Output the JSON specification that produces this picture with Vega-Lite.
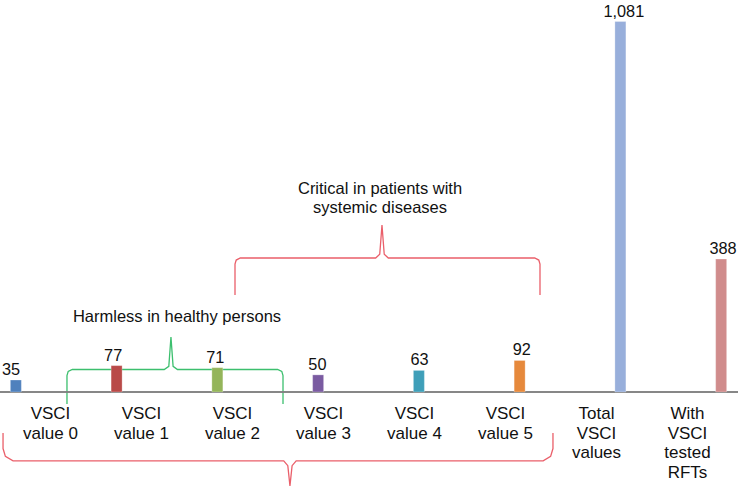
{
  "$schema": "https://vega.github.io/schema/vega-lite/v6.json",
  "width": 738,
  "height": 486,
  "padding": 0,
  "autosize": {"type": "none"},
  "config": {"view": {"stroke": null}, "font": "Liberation Sans"},
  "datasets": {
    "bars": [
      {"i": 0, "label": "VSCI\nvalue 0", "value": 35},
      {"i": 1, "label": "VSCI\nvalue 1", "value": 77},
      {"i": 2, "label": "VSCI\nvalue 2", "value": 71},
      {"i": 3, "label": "VSCI\nvalue 3", "value": 50},
      {"i": 4, "label": "VSCI\nvalue 4", "value": 63},
      {"i": 5, "label": "VSCI\nvalue 5", "value": 92},
      {"i": 6, "label": "Total\nVSCI\nvalues", "value": 1081},
      {"i": 7, "label": "With\nVSCI\ntested\nRFTs", "value": 388}
    ],
    "braces": [
      {"brace": "healthy", "k": 0, "x": 0.548, "y": -35},
      {"brace": "healthy", "k": 1, "x": 0.548, "y": 48},
      {"brace": "healthy", "k": 2, "x": 0.56, "y": 60},
      {"brace": "healthy", "k": 3, "x": 0.6, "y": 65.7},
      {"brace": "healthy", "k": 4, "x": 1.5, "y": 65.7},
      {"brace": "healthy", "k": 5, "x": 1.545, "y": 75},
      {"brace": "healthy", "k": 6, "x": 1.566, "y": 160.5},
      {"brace": "healthy", "k": 7, "x": 1.587, "y": 75},
      {"brace": "healthy", "k": 8, "x": 1.63, "y": 65.7},
      {"brace": "healthy", "k": 9, "x": 2.61, "y": 65.7},
      {"brace": "healthy", "k": 10, "x": 2.651, "y": 60},
      {"brace": "healthy", "k": 11, "x": 2.663, "y": 48},
      {"brace": "healthy", "k": 12, "x": 2.663, "y": -35},
      {"brace": "critical", "k": 0, "x": 2.193, "y": 283},
      {"brace": "critical", "k": 1, "x": 2.193, "y": 373},
      {"brace": "critical", "k": 2, "x": 2.205, "y": 385},
      {"brace": "critical", "k": 3, "x": 2.245, "y": 391},
      {"brace": "critical", "k": 4, "x": 3.57, "y": 391},
      {"brace": "critical", "k": 5, "x": 3.61, "y": 402},
      {"brace": "critical", "k": 6, "x": 3.632, "y": 487},
      {"brace": "critical", "k": 7, "x": 3.654, "y": 402},
      {"brace": "critical", "k": 8, "x": 3.694, "y": 391},
      {"brace": "critical", "k": 9, "x": 5.127, "y": 391},
      {"brace": "critical", "k": 10, "x": 5.167, "y": 385},
      {"brace": "critical", "k": 11, "x": 5.179, "y": 373},
      {"brace": "critical", "k": 12, "x": 5.179, "y": 283},
      {"brace": "all", "k": 0, "x": -0.078, "y": -119.6},
      {"brace": "all", "k": 1, "x": -0.078, "y": -165},
      {"brace": "all", "k": 2, "x": -0.055, "y": -188},
      {"brace": "all", "k": 3, "x": 0.02, "y": -201},
      {"brace": "all", "k": 4, "x": 2.67, "y": -201},
      {"brace": "all", "k": 5, "x": 2.71, "y": -215},
      {"brace": "all", "k": 6, "x": 2.731, "y": -274},
      {"brace": "all", "k": 7, "x": 2.752, "y": -215},
      {"brace": "all", "k": 8, "x": 2.792, "y": -201},
      {"brace": "all", "k": 9, "x": 5.21, "y": -201},
      {"brace": "all", "k": 10, "x": 5.283, "y": -188},
      {"brace": "all", "k": 11, "x": 5.306, "y": -165},
      {"brace": "all", "k": 12, "x": 5.306, "y": -119.6}
    ],
    "notes": [
      {"note": "Harmless in healthy persons", "x": 1.625, "y": 205},
      {"note": "Critical in patients with\nsystemic diseases", "x": 3.613, "y": 578}
    ]
  },
  "layer": [
    {
      "data": {"name": "braces"},
      "mark": {"type": "line", "strokeWidth": 1.3},
      "encoding": {
        "x": {"field": "x", "type": "quantitative", "scale": {"domain": [-0.1077, 7.1175], "nice": false, "zero": false}, "axis": null},
        "y": {"field": "y", "type": "quantitative", "scale": {"domain": [-274.3, 1143.9], "nice": false, "zero": false}, "axis": null},
        "detail": {"field": "brace", "type": "nominal"},
        "order": {"field": "k", "type": "quantitative"},
        "color": {"field": "brace", "type": "nominal", "legend": null, "scale": {"domain": ["healthy", "critical", "all"], "range": ["#3cbf6e", "#ea5f6a", "#ea5f6a"]}}
      }
    },
    {
      "data": {"name": "notes"},
      "mark": {"type": "rule", "color": "#7f7f7f", "strokeWidth": 1.5},
      "encoding": {
        "y": {"datum": 0, "type": "quantitative", "scale": {"domain": [-274.3, 1143.9], "nice": false, "zero": false}, "axis": null}
      }
    },
    {
      "data": {"name": "bars"},
      "mark": {"type": "bar", "size": 11, "stroke": "#ffffff", "strokeOpacity": 0.35, "strokeWidth": 0.8},
      "encoding": {
        "x": {"field": "i", "type": "quantitative", "scale": {"domain": [-0.1077, 7.1175], "nice": false, "zero": false}, "axis": null},
        "y": {"field": "value", "type": "quantitative", "scale": {"domain": [-274.3, 1143.9], "nice": false, "zero": false}, "axis": null},
        "y2": {"datum": 0},
        "color": {"field": "label", "type": "nominal", "legend": null, "scale": {"domain": ["VSCI\nvalue 0", "VSCI\nvalue 1", "VSCI\nvalue 2", "VSCI\nvalue 3", "VSCI\nvalue 4", "VSCI\nvalue 5", "Total\nVSCI\nvalues", "With\nVSCI\ntested\nRFTs"], "range": ["#4f81bd", "#b94a48", "#94b55a", "#7a5ba1", "#3f9fb9", "#e6893c", "#98afdb", "#d08c8c"]}}
      }
    },
    {
      "data": {"name": "bars"},
      "mark": {"type": "text", "fontSize": 16.3, "baseline": "alphabetic", "align": "center", "dy": -5, "dx": {"expr": "datum.i == 7 ? -3 : 0"}, "color": "#111111"},
      "encoding": {
        "x": {"field": "i", "type": "quantitative", "scale": {"domain": [-0.1077, 7.1175], "nice": false, "zero": false}, "axis": null},
        "y": {"field": "value", "type": "quantitative", "scale": {"domain": [-274.3, 1143.9], "nice": false, "zero": false}, "axis": null},
        "text": {"field": "value", "type": "quantitative", "format": ","}
      }
    },
    {
      "data": {"name": "notes"},
      "mark": {"type": "text", "fontSize": 16.5, "baseline": "alphabetic", "align": "center", "lineBreak": "\n", "lineHeight": 19.3, "color": "#111111"},
      "encoding": {
        "x": {"field": "x", "type": "quantitative", "scale": {"domain": [-0.1077, 7.1175], "nice": false, "zero": false}, "axis": null},
        "y": {"field": "y", "type": "quantitative", "scale": {"domain": [-274.3, 1143.9], "nice": false, "zero": false}, "axis": null},
        "text": {"field": "note", "type": "nominal"}
      }
    },
    {
      "data": {"name": "bars"},
      "mark": {"type": "text", "fontSize": 17, "baseline": "alphabetic", "align": "center", "lineBreak": "\n", "lineHeight": 19.5, "color": "#111111"},
      "encoding": {
        "x": {"field": "i", "type": "quantitative", "scale": {"domain": [-0.555, 7.555], "nice": false, "zero": false}, "axis": null},
        "y": {"datum": -79.7, "type": "quantitative", "scale": {"domain": [-274.3, 1143.9], "nice": false, "zero": false}, "axis": null},
        "text": {"field": "label", "type": "nominal"}
      }
    }
  ],
  "resolve": {"scale": {"x": "independent", "color": "independent"}}
}
